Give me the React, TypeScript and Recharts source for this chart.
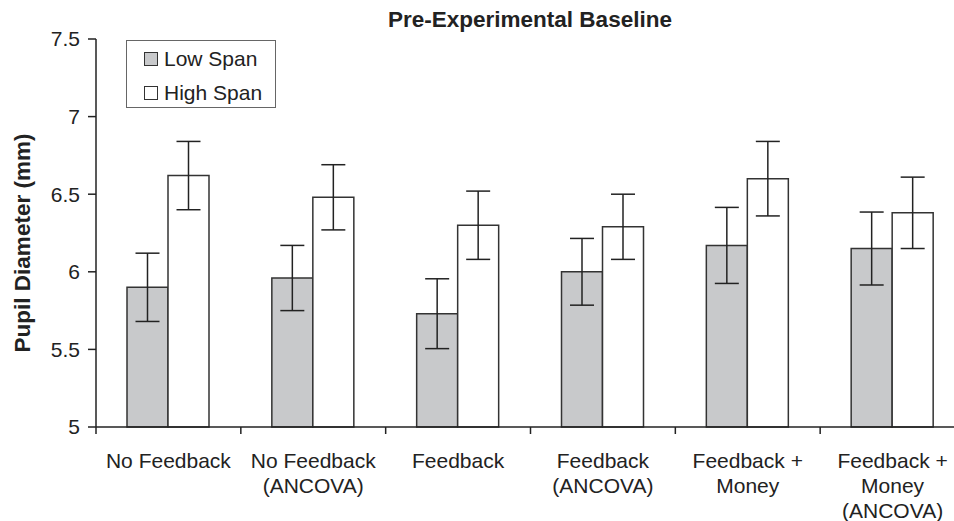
import React from 'react';
import { BarChart, Bar, XAxis, YAxis, ErrorBar } from 'recharts';

const categories = [
  'No Feedback',
  'No Feedback\n(ANCOVA)',
  'Feedback',
  'Feedback\n(ANCOVA)',
  'Feedback +\nMoney',
  'Feedback +\nMoney\n(ANCOVA)',
];
const lowSpan = [5.9, 5.96, 5.73, 6.0, 6.17, 6.15];
const lowSpanErr = [0.22, 0.21, 0.225, 0.215, 0.245, 0.235];
const highSpan = [6.62, 6.48, 6.3, 6.29, 6.6, 6.38];
const highSpanErr = [0.22, 0.21, 0.22, 0.21, 0.24, 0.23];
const yTicks = [5, 5.5, 6, 6.5, 7, 7.5];
const seriesNames = ['Low Span', 'High Span'];

const data = categories.map((name, i) => ({
  name,
  low: lowSpan[i],
  lowErr: lowSpanErr[i],
  high: highSpan[i],
  highErr: highSpanErr[i],
}));

const FONT = '"Liberation Sans", Arial, sans-serif';
const INK = '#222';
const LOW_FILL = '#c8c9cb';
const CHART_W = 980;
const CHART_H = 521;
const MARGIN = { top: 39, right: 15, bottom: 0, left: 0 };
const X_AXIS_H = 94;
const Y_AXIS_W = 96;
const BAND = (CHART_W - MARGIN.right - MARGIN.left - Y_AXIS_W) / categories.length;

const CategoryTick = (props: any) => {
  const { x, y, payload, index } = props;
  const lines = String(payload.value).split('\n');
  return (
    <g>
      <line x1={x - BAND / 2} x2={x - BAND / 2} y1={y} y2={y + 7} stroke={INK} strokeWidth={1.5} />
      {index === categories.length - 1 && (
        <line x1={x + BAND / 2} x2={x + BAND / 2} y1={y} y2={y + 7} stroke={INK} strokeWidth={1.5} />
      )}
      {lines.map((line, i) => (
        <text key={i} x={x} y={y + 41 + i * 25} textAnchor="middle" fontSize={21} fontFamily={FONT} fill={INK}>
          {line}
        </text>
      ))}
    </g>
  );
};

// legend drawn as a plain box over the plot
const LegendBox = () => (
  <div
    style={{
      position: 'absolute',
      left: 126,
      top: 40,
      width: 148,
      height: 66,
      border: '1.5px solid #666',
      background: '#fff',
      fontFamily: FONT,
      fontSize: 21,
      color: INK,
    }}
  >
    {seriesNames.map((label, i) => (
      <div key={label} style={{ display: 'flex', alignItems: 'center', height: 34, paddingLeft: 17, marginTop: i === 0 ? 1 : 0 }}>
        <span
          style={{
            width: 12,
            height: 12,
            border: '1.5px solid #333',
            background: i === 0 ? LOW_FILL : '#fff',
            marginRight: 6,
          }}
        />
        {label}
      </div>
    ))}
  </div>
);

export default function App() {
  return (
    <div style={{ position: 'absolute', left: 0, top: 0, width: 954, height: 521, overflow: 'hidden', background: '#fff' }}>
      <BarChart width={CHART_W} height={CHART_H} data={data} margin={MARGIN} barGap={0} barSize={41}>
        <XAxis
          dataKey="name"
          interval={0}
          tickLine={false}
          tickSize={0}
          tickMargin={0}
          axisLine={{ stroke: INK, strokeWidth: 1.5 }}
          tick={(p: any) => <CategoryTick {...p} />}
          height={X_AXIS_H}
        />
        <YAxis
          width={Y_AXIS_W}
          domain={[5, 7.5]}
          ticks={yTicks}
          interval={0}
          tickSize={8}
          tickMargin={8}
          axisLine={{ stroke: INK, strokeWidth: 1.5 }}
          tickLine={{ stroke: INK, strokeWidth: 1.5 }}
          tick={{ fontSize: 21, fontFamily: FONT, fill: INK }}
          label={() => (
            <text
              x={22}
              y={243}
              transform="rotate(-90, 22, 243)"
              textAnchor="middle"
              dominantBaseline="central"
              fontSize={22.5}
              fontWeight="bold"
              fontFamily={FONT}
              fill={INK}
            >
              Pupil Diameter (mm)
            </text>
          )}
        />
        <Bar dataKey="low" name="Low Span" fill={LOW_FILL} stroke="#333" strokeWidth={1.5} isAnimationActive={false}>
          <ErrorBar dataKey="lowErr" width={12} stroke={INK} strokeWidth={1.5} />
        </Bar>
        <Bar dataKey="high" name="High Span" fill="#fff" stroke="#333" strokeWidth={1.5} isAnimationActive={false}>
          <ErrorBar dataKey="highErr" width={12} stroke={INK} strokeWidth={1.5} />
        </Bar>
      </BarChart>
      <div
        style={{
          position: 'absolute',
          left: 0,
          width: 1060,
          top: 7,
          textAlign: 'center',
          fontFamily: FONT,
          fontWeight: 'bold',
          fontSize: 22.5,
          color: INK,
        }}
      >
        Pre-Experimental Baseline
      </div>
      <LegendBox />
    </div>
  );
}
